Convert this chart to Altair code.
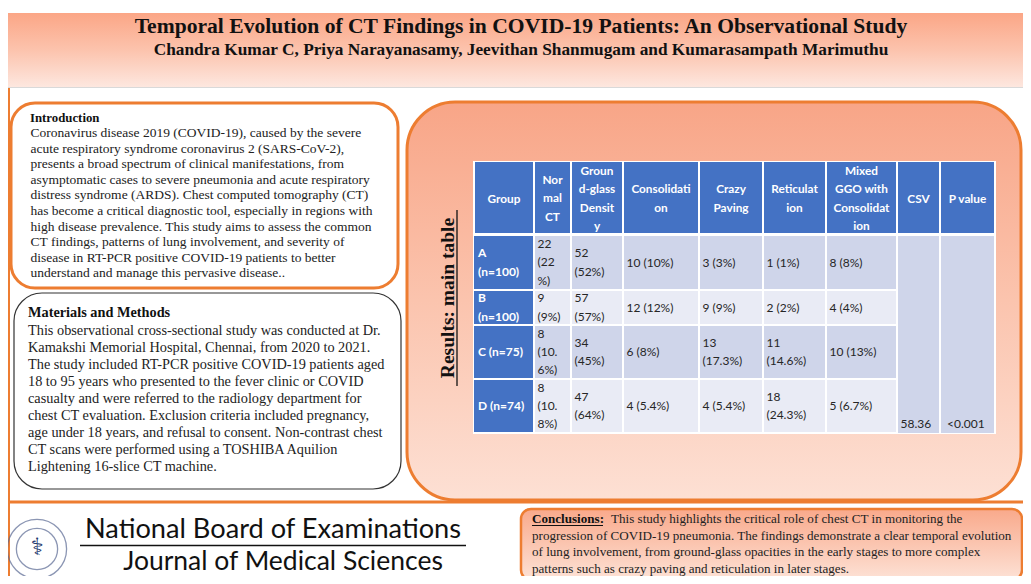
import altair as alt
import pandas as pd

# ---------------- text content ----------------
title = "Temporal Evolution of CT Findings in COVID-19 Patients: An Observational Study"
authors = "Chandra Kumar C, Priya Narayanasamy, Jeevithan Shanmugam and Kumarasampath Marimuthu"

intro_heading = "Introduction"
intro_lines = [
    "Coronavirus disease 2019 (COVID-19), caused by the severe",
    "acute respiratory syndrome coronavirus 2 (SARS-CoV-2),",
    "presents a broad spectrum of clinical manifestations, from",
    "asymptomatic cases to severe pneumonia and acute respiratory",
    "distress syndrome (ARDS). Chest computed tomography (CT)",
    "has become a critical diagnostic tool, especially in regions with",
    "high disease prevalence. This study aims to assess the common",
    "CT findings, patterns of lung involvement, and severity of",
    "disease in RT-PCR positive COVID-19 patients to better",
    "understand and manage this pervasive disease..",
]

methods_heading = "Materials and Methods"
methods_lines = [
    "This observational cross-sectional study was conducted at Dr.",
    "Kamakshi Memorial Hospital, Chennai, from 2020 to 2021.",
    "The study included RT-PCR positive COVID-19 patients aged",
    "18 to 95 years who presented to the fever clinic or COVID",
    "casualty and were referred to the radiology department for",
    "chest CT evaluation. Exclusion criteria included pregnancy,",
    "age under 18 years, and refusal to consent. Non-contrast chest",
    "CT scans were performed using a TOSHIBA Aquilion",
    "Lightening 16-slice CT machine.",
]

results_label = "Results: main table"

# ---------------- table data ----------------
col_headers = [
    "Group", "Nor\nmal\nCT", "Groun\nd-glass\nDensit\ny", "Consolidati\non",
    "Crazy\nPaving", "Reticulat\nion", "Mixed\nGGO with\nConsolidat\nion", "CSV", "P value",
]
groups = ["A\n(n=100)", "B\n(n=100)", "C (n=75)", "D (n=74)"]
normal_ct = ["22\n(22\n%)", "9\n(9%)", "8\n(10.\n6%)", "8\n(10.\n8%)"]
ground_glass = ["52\n(52%)", "57\n(57%)", "34\n(45%)", "47\n(64%)"]
consolidation = ["10 (10%)", "12 (12%)", "6 (8%)", "4 (5.4%)"]
crazy_paving = ["3 (3%)", "9 (9%)", "13\n(17.3%)", "4 (5.4%)"]
reticulation = ["1 (1%)", "2 (2%)", "11\n(14.6%)", "18\n(24.3%)"]
mixed_ggo = ["8 (8%)", "4 (4%)", "10 (13%)", "5 (6.7%)"]
csv_value = "58.36"
p_value = "<0.001"

conclusion_label = "Conclusions:"
conclusion_lines = [
    "This study highlights the critical role of chest CT in monitoring the",
    "progression of COVID-19 pneumonia. The findings demonstrate a clear temporal evolution",
    "of lung involvement, from ground-glass opacities in the early stages to more complex",
    "patterns such as crazy paving and reticulation in later stages.",
]
journal_lines = ["National Board of Examinations", "Journal of Medical Sciences"]

# ---------------- layout ----------------
W, H = 1015, 568
xs = alt.Scale(domain=[8, 8 + W], nice=False, zero=False)
ys = alt.Scale(domain=[8, 8 + H], nice=False, zero=False, reverse=True)

ORANGE = "#ed7d31"
BLUE = "#4472c4"
DARK = "#cfd5ea"
LIGHT = "#e9ebf5"
SERIF = "Liberation Serif"
SANS = "Lato"
LH = 18.3


def grad(stops):
    return alt.Gradient(
        gradient="linear",
        stops=[alt.GradientStop(color=c, offset=o) for o, c in stops],
        x1=0, x2=0, y1=0, y2=1,
    )


def rects(rows, **kw):
    df = pd.DataFrame(rows, columns=["x", "x2", "y", "y2"])
    return alt.Chart(df).mark_rect(**kw).encode(
        x=alt.X("x:Q", scale=xs, axis=None), x2="x2:Q",
        y=alt.Y("y:Q", scale=ys, axis=None), y2="y2:Q",
    )


def colored_rects(rows):
    df = pd.DataFrame(rows, columns=["x", "x2", "y", "y2", "c"])
    return alt.Chart(df).mark_rect().encode(
        x=alt.X("x:Q", scale=xs, axis=None), x2="x2:Q",
        y=alt.Y("y:Q", scale=ys, axis=None), y2="y2:Q",
        color=alt.Color("c:N", scale=None),
    )


def rules(rows, **kw):
    df = pd.DataFrame(rows, columns=["x", "x2", "y", "y2"])
    return alt.Chart(df).mark_rule(**kw).encode(
        x=alt.X("x:Q", scale=xs, axis=None), x2="x2:Q",
        y=alt.Y("y:Q", scale=ys, axis=None), y2="y2:Q",
    )


def texts(rows, **kw):
    df = pd.DataFrame(rows, columns=["x", "y", "t"])
    return alt.Chart(df).mark_text(lineBreak="\n", **kw).encode(
        x=alt.X("x:Q", scale=xs, axis=None),
        y=alt.Y("y:Q", scale=ys, axis=None),
        text="t:N",
    )


def centered(mid, s, lh=LH):
    n = s.count("\n") + 1
    return mid - (n - 1) * lh / 2


layers = []

# header band
layers.append(rects([[4, 1031, 13, 87]],
                    fill=grad([(0, "#fba686"), (0.5, "#fcc3ad"), (1, "#fde7df")])))
layers.append(rules([[4, 1031, 87.5, 87.5]], color="#d9d9d9", strokeWidth=1))
layers.append(texts([[521, 26.5, title]], font=SERIF, fontWeight="bold", fontSize=21.6,
                    color="#111111", align="center", baseline="middle"))
layers.append(texts([[521, 50, authors]], font=SERIF, fontWeight="bold", fontSize=17.3,
                    color="#111111", align="center", baseline="middle"))

# left orange strip and bottom separator
layers.append(rules([[9, 9, 88, 584]], color=ORANGE, strokeWidth=2))
layers.append(rules([[8, 1031, 502, 502]], color=ORANGE, strokeWidth=3))

# introduction box
layers.append(rects([[11, 398, 103, 288]], fill="white", stroke=ORANGE,
                    strokeWidth=3, cornerRadius=24))
layers.append(texts([[30, 117.5, intro_heading]], font=SERIF, fontWeight="bold",
                    fontSize=12.8, color="#111111", align="left", baseline="middle"))
layers.append(texts([[30.5, 133 + i * 15.6, s] for i, s in enumerate(intro_lines)],
                    font=SERIF, fontSize=13.5, color="#222222", align="left", baseline="middle"))

# methods box
layers.append(rects([[14, 401, 293, 489]], fill="white", stroke="#333333",
                    strokeWidth=1.2, cornerRadius=28))
layers.append(texts([[28, 313, methods_heading]], font=SERIF, fontWeight="bold",
                    fontSize=14.3, color="#111111", align="left", baseline="middle"))
layers.append(texts([[28, 331 + i * 17, s] for i, s in enumerate(methods_lines)],
                    font=SERIF, fontSize=14.3, color="#222222", align="left", baseline="middle"))

# results box
layers.append(rects([[407, 1021, 102, 500]],
                    fill=grad([(0, "#f8a587"), (0.5, "#fbc4ae"), (1, "#fde0d4")]),
                    stroke=ORANGE, strokeWidth=3, cornerRadius=48))
layers.append(texts([[448, 298, results_label]], font=SERIF, fontWeight="bold",
                    fontSize=19.5, angle=270, color="#111111", align="center",
                    baseline="middle"))
layers.append(rules([[457, 457, 210, 386]], color="#111111", strokeWidth=1.3))

# table
col_edges = [474, 534, 571, 623, 699, 763, 826, 897, 940, 995]
row_edges = [162, 235, 290, 325, 379, 433]
g = 1.0
cells = []
for j in range(9):
    cells.append([col_edges[j] + g, col_edges[j + 1] - g, row_edges[0], row_edges[1] - 2, BLUE])
for i in range(4):
    y1, y2 = row_edges[i + 1] + (1 if i == 0 else g), row_edges[i + 2] - g
    cells.append([col_edges[0], col_edges[1] - g, y1, y2, BLUE])
    shade = DARK if i % 2 == 0 else LIGHT
    for j in range(1, 7):
        cells.append([col_edges[j] + g, col_edges[j + 1] - g, y1, y2, shade])
for j in (7, 8):
    cells.append([col_edges[j] + g, col_edges[j + 1] - g, row_edges[1] + 1,
                  row_edges[5], DARK])
layers.append(rects([[col_edges[0] - 1, col_edges[-1] + 1, row_edges[0] - 1,
                      row_edges[-1] + 1]], fill="white"))
layers.append(colored_rects(cells))

header_y = (row_edges[0] + row_edges[1]) / 2
layers.append(texts([[(col_edges[j] + col_edges[j + 1]) / 2, centered(header_y, h), h]
                     for j, h in enumerate(col_headers)],
                    font=SANS, fontWeight="bold", fontSize=11.8, lineHeight=LH,
                    color="white", align="center", baseline="middle"))

row_mid = [(row_edges[i + 1] + row_edges[i + 2]) / 2 for i in range(4)]
layers.append(texts([[col_edges[0] + 4, centered(row_mid[i], s), s] for i, s in enumerate(groups)],
                    font=SANS, fontWeight="bold", fontSize=12, lineHeight=LH,
                    color="white", align="left", baseline="middle"))
body_cols = [normal_ct, ground_glass, consolidation, crazy_paving, reticulation, mixed_ggo]
body_rows = []
for j, col in enumerate(body_cols):
    for i, s in enumerate(col):
        body_rows.append([col_edges[j + 1] + 3.5, centered(row_mid[i], s), s])
body_rows.append([col_edges[7] + 3.5, 424, csv_value])
body_rows.append([col_edges[8] + 7, 424, p_value])
layers.append(texts(body_rows, font=SANS, fontSize=12, lineHeight=LH,
                    color="#262626", align="left", baseline="middle"))

# journal block
layers.append(alt.Chart(pd.DataFrame({"x": [37, 37], "y": [549, 549], "s": [3500, 1700]}))
              .mark_point(shape="circle", filled=False, color="#5b6a94", strokeWidth=1.3)
              .encode(x=alt.X("x:Q", scale=xs, axis=None),
                      y=alt.Y("y:Q", scale=ys, axis=None),
                      size=alt.Size("s:Q", scale=None)))
layers.append(texts([[37, 548, "\u2695"]], font="DejaVu Sans", fontSize=24,
                    color="#1f3b70", align="center", baseline="middle"))
layers.append(texts([[273, 529.5, journal_lines[0]]], font=SANS, fontSize=27.2,
                    color="#111111", align="center", baseline="middle"))
layers.append(rules([[80, 466, 545.5, 545.5]], color="#111111", strokeWidth=1.5))
layers.append(texts([[283, 562, journal_lines[1]]], font=SANS, fontSize=26.5,
                    color="#111111", align="center", baseline="middle"))

# conclusions box
layers.append(rects([[521, 1022, 509, 580]],
                    fill=grad([(0, "#f9a98b"), (1, "#fde2d6")]),
                    stroke=ORANGE, strokeWidth=2.5, cornerRadius=10))
layers.append(texts([[532, 519, conclusion_label]], font=SERIF, fontWeight="bold",
                    fontSize=13.1, color="#111111", align="left", baseline="middle"))
layers.append(rules([[532, 603, 525.5, 525.5]], color="#111111", strokeWidth=1))
conc_rows = [[611 if i == 0 else 532, 519 + i * 16.5, s] for i, s in enumerate(conclusion_lines)]
layers.append(texts(conc_rows, font=SERIF, fontSize=13.1, color="#222222",
                    align="left", baseline="middle"))

chart = (
    alt.layer(*layers)
    .properties(width=W, height=H, padding=0, background="white",
                autosize=alt.AutoSizeParams(type="none"))
    .configure_view(stroke=None)
)

chart.save("out.html", embed_options={"renderer": "svg", "actions": False})
